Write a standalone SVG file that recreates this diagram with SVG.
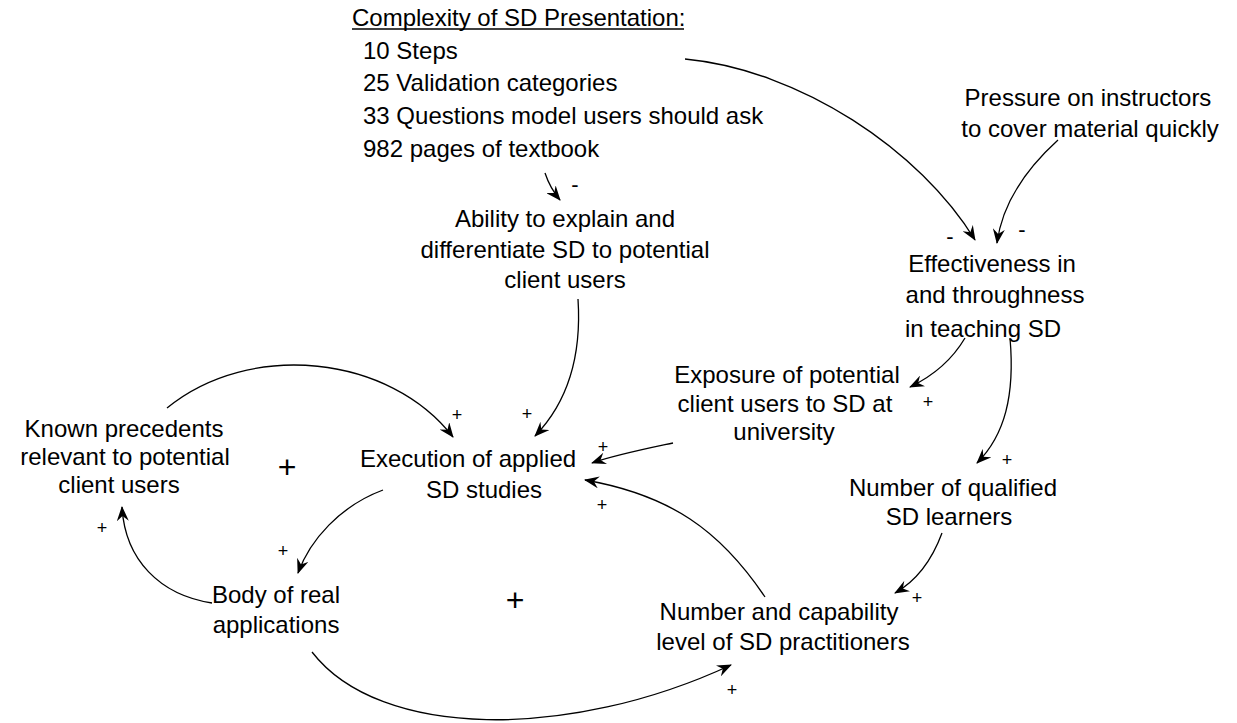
<svg xmlns="http://www.w3.org/2000/svg" width="1237" height="723" viewBox="0 0 1237 723">
<defs>
<marker id="ah" viewBox="0 0 15 12" refX="14" refY="6" markerWidth="15" markerHeight="12" markerUnits="userSpaceOnUse" orient="auto">
<path d="M0,0 L15,6 L0,12 L5,6 z" fill="#000"/>
</marker>
<style>
text{font-family:"Liberation Sans",Arial,sans-serif;font-size:24px;fill:#000}
.n text{text-anchor:middle}
.s{font-size:18px;text-anchor:middle}
.d{font-size:22px;text-anchor:middle}
.b{font-size:32px;text-anchor:middle}
.c path{fill:none;stroke:#000;stroke-width:1.3;marker-end:url(#ah)}
</style>
</defs>
<rect width="1237" height="723" fill="#fff"/>
<g id="complexity">
<text x="352" y="26">Complexity of SD Presentation:</text>
<line x1="352" y1="29" x2="684" y2="29" stroke="#000" stroke-width="1.3"/>
<text x="363" y="59">10 Steps</text>
<text x="363" y="91">25 Validation categories</text>
<text x="363" y="124">33 Questions model users should ask</text>
<text x="363" y="157">982 pages of textbook</text>
</g>
<g id="pressure" class="n">
<text x="1088" y="106">Pressure on instructors</text>
<text x="1090" y="137">to cover material quickly</text>
</g>
<g id="ability" class="n">
<text x="565" y="227">Ability to explain and</text>
<text x="565" y="258">differentiate SD to potential</text>
<text x="565" y="288">client users</text>
</g>
<g id="effectiveness" class="n">
<text x="992" y="272">Effectiveness in</text>
<text x="995" y="303">and throughness</text>
<text x="983" y="337">in teaching SD</text>
</g>
<g id="exposure" class="n">
<text x="787" y="383">Exposure of potential</text>
<text x="785" y="412">client users to SD at</text>
<text x="784" y="440">university</text>
</g>
<g id="known" class="n">
<text x="124" y="437">Known precedents</text>
<text x="125" y="465">relevant to potential</text>
<text x="119" y="493">client users</text>
</g>
<g id="execution" class="n">
<text x="468" y="467">Execution of applied</text>
<text x="484" y="498">SD studies</text>
</g>
<g id="qualified" class="n">
<text x="953" y="496">Number of qualified</text>
<text x="949" y="525">SD learners</text>
</g>
<g id="body" class="n">
<text x="276" y="603">Body of real</text>
<text x="276" y="633">applications</text>
</g>
<g id="practitioners" class="n">
<text x="779" y="620">Number and capability</text>
<text x="783" y="650">level of SD practitioners</text>
</g>
<g id="connectors" class="c">
<path d="M685,59 C800,70 920,150 975,240"/>
<path d="M1058,140 C1025,170 1002,205 997,243"/>
<path d="M545,173 Q550,188 560,200"/>
<path d="M578,299 C582,360 565,405 535,436"/>
<path d="M167,408 C250,340 390,355 453,437"/>
<path d="M673,443 C640,450 615,455 592,463"/>
<path d="M765,597 C720,530 670,495 585,480"/>
<path d="M965,338 C952,360 935,375 910,387"/>
<path d="M1010,338 C1015,395 1005,435 977,463"/>
<path d="M942,533 C932,560 918,580 895,593"/>
<path d="M383,490 C340,506 310,540 298,573"/>
<path d="M212,603 C160,595 125,560 122,507"/>
<path d="M312,652 C380,740 570,740 731,665"/>
</g>
<g id="signs">
<text class="d" x="575" y="192">-</text>
<text class="d" x="950" y="244">-</text>
<text class="d" x="1022" y="237">-</text>
<text class="s" x="457" y="421">+</text>
<text class="s" x="527" y="420">+</text>
<text class="s" x="603" y="453">+</text>
<text class="s" x="602" y="511">+</text>
<text class="s" x="928" y="408">+</text>
<text class="s" x="1007" y="466">+</text>
<text class="s" x="917" y="604">+</text>
<text class="s" x="732" y="696">+</text>
<text class="s" x="283" y="557">+</text>
<text class="s" x="102" y="534">+</text>
<text class="b" x="287" y="478">+</text>
<text class="b" x="515" y="611">+</text>
</g>
</svg>
